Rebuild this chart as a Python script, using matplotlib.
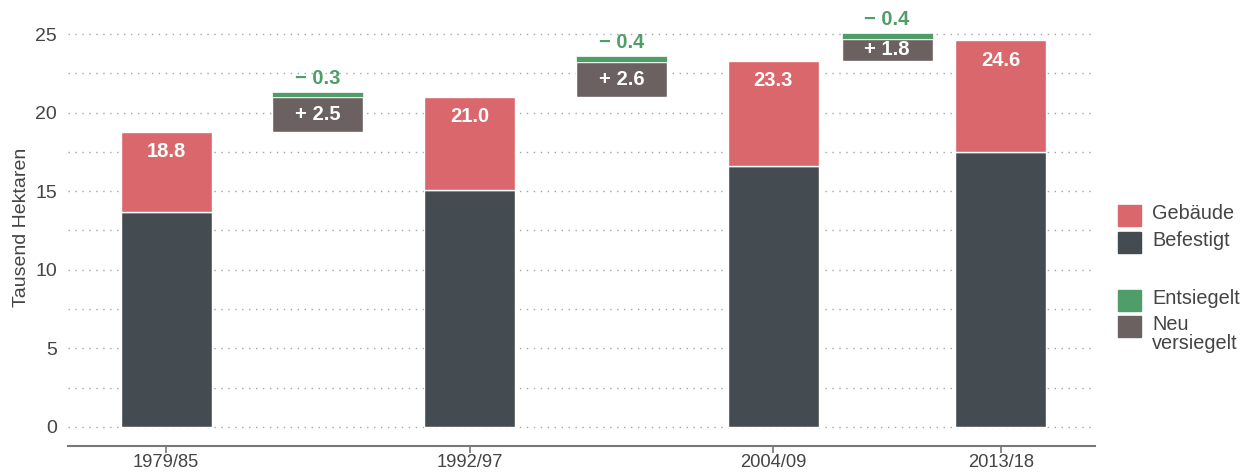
import matplotlib
matplotlib.use("Agg")
import matplotlib.pyplot as plt
from matplotlib.patches import Rectangle

plt.rcParams['font.family'] = ['Liberation Sans', 'DejaVu Sans']

# ---- data ----
periods = ["1979/85", "1992/97", "2004/09", "2013/18"]
befestigt = [13.7, 15.1, 16.6, 17.5]
total = [18.8, 21.0, 23.3, 24.6]
neu_versiegelt = [2.5, 2.6, 1.8]
entsiegelt = [0.3, 0.4, 0.4]
yticks = [0, 5, 10, 15, 20, 25]

# ---- layout ----
x_pos = [0, 1, 2, 2.75]
chg_pos = [(x_pos[i] + x_pos[i + 1]) / 2 for i in range(3)]
bw = 0.30

c_geb = "#d9676b"
c_bef = "#454c51"
c_ent = "#4f9e6a"
c_neu = "#6b6161"
c_txt = "#444444"

fig = plt.figure(figsize=(12.44, 4.75), dpi=100)
ax = fig.add_axes([68 / 1244, 1 - 446 / 475, (1095 - 68) / 1244, (446 - 9) / 475])

gebaeude = [t - b for t, b in zip(total, befestigt)]
ax.bar(x_pos, befestigt, width=bw, color=c_bef, edgecolor="white", linewidth=1, zorder=2)
ax.bar(x_pos, gebaeude, width=bw, bottom=befestigt, color=c_geb, edgecolor="white", linewidth=1, zorder=2)
for x, t in zip(x_pos, total):
    ax.text(x, t - 1.25, f"{t:.1f}", ha="center", va="center", color="white",
            fontsize=14.5, fontweight="bold", zorder=3)

for i, x in enumerate(chg_pos):
    base = total[i]
    grey_h = neu_versiegelt[i] - entsiegelt[i]
    ax.bar(x, grey_h, width=bw, bottom=base, color=c_neu, edgecolor="white", linewidth=1, zorder=2)
    ax.bar(x, entsiegelt[i], width=bw, bottom=base + grey_h, color=c_ent, edgecolor="white",
           linewidth=0.5, zorder=2)
    ax.text(x, base + grey_h / 2, f"+ {neu_versiegelt[i]:.1f}", ha="center", va="center",
            color="white", fontsize=14.5, fontweight="bold", zorder=3)
    ax.text(x, base + neu_versiegelt[i] + 0.25, f"\u2212 {entsiegelt[i]:.1f}", ha="center",
            va="bottom", color=c_ent, fontsize=14.5, fontweight="bold", zorder=3)

ax.set_xlim(-0.323, 3.06)
ax.set_ylim(-1.22, 26.6)
ax.set_yticks(yticks)
ax.set_yticks([2.5, 7.5, 12.5, 17.5, 22.5], minor=True)
ax.yaxis.grid(True, which="both", linestyle=(0, (1, 4)), color="#a0a4a8", linewidth=1, zorder=0)
ax.set_axisbelow(True)
ax.tick_params(axis="y", which="both", length=0, pad=8, labelsize=14, labelcolor=c_txt)
ax.set_xticks(x_pos)
ax.set_xticklabels(periods)
ax.tick_params(axis="x", length=5, width=1.2, color="#777777", pad=1, labelsize=13.2, labelcolor=c_txt)
for s in ["top", "right", "left"]:
    ax.spines[s].set_visible(False)
ax.spines["bottom"].set_color("#777777")
ax.spines["bottom"].set_linewidth(1.5)
ax.set_ylabel("Tausend Hektaren", fontsize=14, color=c_txt, labelpad=4)

# ---- legend (manual, figure coords) ----
W, H = 1244, 475
legend_items = [
    ("Gebäude", c_geb, 205),
    ("Befestigt", c_bef, 232),
    ("Entsiegelt", c_ent, 290),
    ("Neu\nversiegelt", c_neu, 316),
]
for label, col, ytop in legend_items:
    fig.patches.append(Rectangle((1118 / W, 1 - (ytop + 21) / H), 23 / W, 21 / H,
                                 transform=fig.transFigure, color=col))
    fig.text(1152 / W, 1 - (ytop - 1) / H, label, ha="left", va="top", fontsize=14.3,
             color=c_txt, linespacing=1.0)

fig.savefig("out.png", dpi=100)
